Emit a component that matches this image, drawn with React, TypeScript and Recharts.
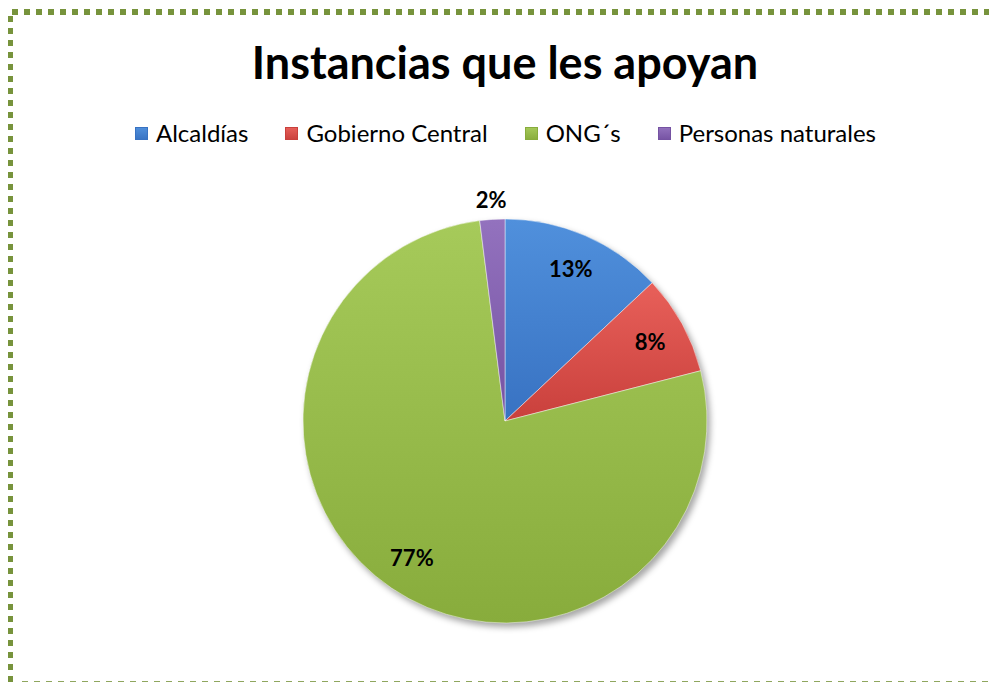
import React from "react";
import { PieChart, Pie, Cell } from "recharts";

const categories = ["Alcaldías", "Gobierno Central", "ONG´s", "Personas naturales"];
const values = [13, 8, 77, 2];
const labels = ["13%", "8%", "77%", "2%"];

const colors = [
  { light: "#5090DC", dark: "#3872C2" },
  { light: "#E8605A", dark: "#C9403C" },
  { light: "#A6CA5A", dark: "#88AC3C" },
  { light: "#9372BE", dark: "#7552A2" },
];

const data = categories.map((name, i) => ({ name, value: values[i], label: labels[i] }));

const FONT = "Lato, 'Open Sans', sans-serif";

const RADIAN = Math.PI / 180;

const renderLabel = (props: any) => {
  const { cx, cy, midAngle, outerRadius, index } = props;
  const r = values[index] < 5 ? outerRadius + 20 : outerRadius * 0.82;
  const x = cx + r * Math.cos(-midAngle * RADIAN);
  const y = cy + r * Math.sin(-midAngle * RADIAN);
  return (
    <text
      x={x}
      y={y}
      textAnchor="middle"
      dominantBaseline="central"
      fontFamily={FONT}
      fontWeight={700}
      fontSize={22}
      fill="#000"
    >
      {labels[index]}
    </text>
  );
};

export default function App() {
  return (
    <div
      style={{
        position: "absolute",
        left: 0,
        top: 0,
        width: 989,
        height: 682,
        overflow: "hidden",
        background: "#fff",
      }}
    >
      <style>{`.recharts-pie { filter: drop-shadow(3px 4px 3px rgba(0,0,0,0.35)); }`}</style>
      <svg width={989} height={682} style={{ position: "absolute", left: 0, top: 0 }}>
        <line x1={12} y1={12} x2={989} y2={12} stroke="#77933C" strokeWidth={6} strokeDasharray="6 6" />
        <line x1={10.5} y1={16} x2={10.5} y2={682} stroke="#77933C" strokeWidth={5} strokeDasharray="6 6" />
        <line x1={22} y1={684} x2={989} y2={684} stroke="#8FA65E" strokeWidth={6} strokeDasharray="6 6" />
      </svg>
      <div
        style={{
          position: "absolute",
          left: 0,
          top: 34,
          width: 1010,
          textAlign: "center",
          fontFamily: FONT,
          fontWeight: 700,
          fontSize: 45,
          lineHeight: "56px",
          color: "#000",
        }}
      >
        Instancias que les apoyan
      </div>
      <div
        style={{
          position: "absolute",
          left: 135,
          top: 117,
          display: "flex",
          alignItems: "center",
          fontFamily: FONT,
          fontSize: 24,
          lineHeight: "32px",
          color: "#000",
          whiteSpace: "nowrap",
        }}
      >
        {categories.map((c, i) => (
          <div key={c} style={{ display: "flex", alignItems: "center", marginRight: 37 }}>
            <span
              style={{
                display: "inline-block",
                width: 13,
                height: 13,
                marginRight: 8,
                background: `linear-gradient(180deg, ${colors[i].light}, ${colors[i].dark})`,
                boxShadow: `inset 0 0 0 1px ${colors[i].dark}`,
              }}
            />
            <span>{c}</span>
          </div>
        ))}
      </div>
      <div style={{ position: "absolute", left: 0, top: 0 }}>
        <PieChart width={989} height={682} margin={{ top: 0, right: 0, bottom: 0, left: 0 }}>
          <defs>
            {colors.map((c, i) => (
              <linearGradient key={i} id={`g${i}`} x1="0" y1="0" x2="0" y2="1">
                <stop offset="0%" stopColor={c.light} />
                <stop offset="100%" stopColor={c.dark} />
              </linearGradient>
            ))}
          </defs>
          <Pie
            data={data}
            dataKey="value"
            nameKey="name"
            cx={505}
            cy={421}
            outerRadius={202}
            startAngle={90}
            endAngle={-270}
            stroke="rgba(255,255,255,0.45)"
            strokeWidth={1}
            label={renderLabel}
            labelLine={false}
            isAnimationActive={false}
          >
            {data.map((d, i) => (
              <Cell key={d.name} fill={`url(#g${i})`} />
            ))}
          </Pie>
        </PieChart>
      </div>
    </div>
  );
}
